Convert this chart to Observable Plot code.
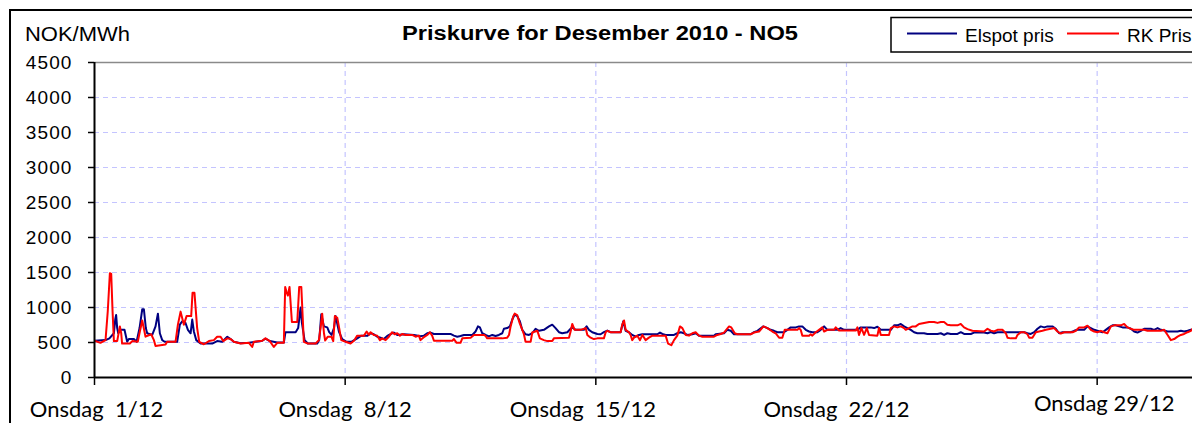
<!DOCTYPE html>
<html><head><meta charset="utf-8">
<script src="https://cdn.jsdelivr.net/npm/d3@7"></script>
<script src="https://cdn.jsdelivr.net/npm/@observablehq/plot@0.6"></script>
<style>
html,body{margin:0;padding:0;background:#fff;overflow:hidden;width:1192px;height:423px;}
#chart svg{display:block}
</style></head><body><div id="chart"></div>
<script>
// ---- data: [hours since 1 Dec 2010 00:00, NOK/MWh] ----
const elspot = [
[0,525],[7.4,534],[10,560],[13,632],[13.9,828],[14.5,892],[15.2,706],[15.9,632],[17.4,681],[20.1,681],[21.9,510],[23,549],[26.4,549],[28.2,510],[30.2,706],[32,975],[33.1,975],[34.4,706],[35.3,632],[38.7,608],[40.9,730],[42.5,912],[43.8,632],[45.4,534],[47,510],[55.4,510],[57.2,755],[58.8,804],[61,779],[62.6,681],[64.4,632],[65.5,828],[66.6,657],[68.2,534],[71.1,485],[78.9,485],[82.2,520],[85.6,510],[89,583],
[91.2,549],[93.4,510],[97.9,490],[103.5,495],[112.4,525],[114.6,555],[117.5,520],[122.5,500],[126.9,500],[128,647],[134.8,647],[136.5,706],[138.1,1000],[139,779],[140.8,534],[143,485],[149.3,485],[150.6,534],[152,902],[153.8,730],[156,716],[157.3,647],[158.9,608],[160.5,706],[161.6,877],[163.8,657],[166,549],[169,510],[172.1,510],[176.1,559],[178.8,598],[183,598],
[185,632],[187.2,618],[189.5,583],[191.7,569],[193.9,549],[196.2,593],[198.4,618],[200.6,642],[202.9,608],[207.4,618],[214.1,608],[218.5,588],[220.8,598],[223,632],[225.2,642],[227.5,622],[238.6,622],[240.9,598],[243.1,583],[245.3,593],[247.6,608],[253.2,608],[255.4,657],[257,730],[258.3,716],[259.9,632],[262.1,608],[264.3,588],[266.6,608],[268.8,593],[271,608],[273.3,632],[274.4,696],[276.6,706],[278.4,730],[280,828],[281.6,900],[283.3,877],[285.1,804],[286.7,680],[288.9,618],[291.2,608],[293.4,632],[295.6,696],[297.9,667],[301.2,681],[304.6,730],[306.8,755],[309,706],[311.3,647],[313.5,632],[316.9,647],[319.1,696],[320.2,716],[322.5,681],
[325.8,681],[328,681],[329.8,730],[331.4,681],[333.6,647],[337,622],[339.2,618],[341.4,647],[343.7,671],[345.9,647],[352.6,647],[354.4,804],[356,667],[358.2,647],[360.4,608],[362.7,583],[364.9,608],[367.1,618],[377.2,618],[379,642],[380.6,622],[382.8,608],[388.4,608],[390.6,632],[392.9,647],[395.1,632],[397.3,608],[400.7,618],[402.9,632],[405.1,598],[415.2,598],[416.3,618],[421.9,632],[424.1,681],[426.4,667],[428.6,618],[439.8,618],[442,647],[444.3,667],[448.3,730],[451,706],[453.2,681],[455.4,667],[457.7,647],[462.1,647],[464.4,681],
[466.6,716],[470,716],[472.2,730],[474.4,730],[476.7,681],[478.9,657],[481.1,647],[484.5,647],[486.7,681],[489,730],[491.2,681],[497.9,681],[500.1,706],[502.4,681],[511.3,681],[513.5,716],[520.2,716],[522.5,706],[524.7,725],[527,681],[533.7,681],[535.9,745],[538.1,745],[540.4,765],[542.6,730],[544.8,706],[547.1,681],[549.3,647],[551.5,632],[556,632],[558.2,622],[565,622],[567.2,632],[569.4,608],[571.6,632],[573.9,622],[578.4,622],[580.6,647],[582.8,622],[587.3,622],[589.5,642],[596.2,642],[598.5,632],
[600.7,650],[602.9,632],[605.2,647],[623.1,647],[625.3,632],[627.5,622],[629.8,647],[632,696],[634.2,730],[636.5,716],[638.7,730],[642,730],[644.3,696],[646.5,632],[648.8,647],[654.3,647],[656.6,667],[658.8,681],[663.3,681],[665.5,730],[667.8,706],[670,681],[672.2,667],[675.6,647],[677.8,681],[680,716],[682.3,745],[684.5,745],[686.7,730],[689,716],[692.3,716],[694.6,696],[696.8,657],[699,642],[701.3,667],[703.5,696],[708,696],[710.2,681],[712.5,706],[714.7,681],[716.9,671],[719.2,657],[725.9,657],[728.1,667],[730.3,657],[732.6,667],[734.8,681],[736,685]
];
const rk = [
[0,525],[4,495],[7.4,534],[8.9,950],[10.3,1490],[11.2,1480],[12.1,950],[13,520],[15.2,520],[17,730],[17.9,632],[18.5,485],[23.7,485],[25.3,520],[29,510],[30.4,657],[32,814],[34.2,583],[38,618],[39.8,534],[40.9,451],[47.6,470],[48.7,510],[54.3,510],[55.9,755],[57.7,941],[59.9,755],[61.7,877],[64.8,877],[65.7,1210],[67,1210],[68.8,706],[70.2,510],[73.3,475],[76.7,520],[80,534],[82.2,583],[84.5,583],[86.3,520],[89,559],
[91.2,549],[93.4,510],[97.9,485],[103.5,495],[105.7,436],[106.8,510],[112.4,525],[114.6,559],[117.5,520],[120.2,436],[122.5,495],[126.9,495],[127.8,1294],[128.7,1220],[129.6,1171],[130.7,1294],[132.3,794],[135.9,794],[137.2,1294],[138.6,1294],[140.3,510],[143,485],[148.2,485],[150.4,534],[151.5,706],[152.6,912],[153.8,632],[154.6,529],[156.4,583],[158.7,583],[160,520],[161.1,877],[162.7,853],[164,706],[165.4,534],[168.3,510],[171.6,485],[173.9,525],[176.1,598],[180.6,598],[182.4,657],[184,610],
[185,647],[187.2,608],[189.5,598],[191.3,534],[192.8,559],[195.1,534],[197.3,583],[199.5,647],[201.1,618],[202.9,632],[204.7,598],[206.2,622],[208.5,608],[212.9,608],[215.2,583],[217.4,598],[218.5,534],[220.3,569],[223,608],[224.8,647],[226.3,598],[227.5,525],[239.8,525],[240.9,549],[242.7,495],[245.3,495],[246.5,559],[252.1,569],[254.3,608],[261,608],[262.1,593],[263.2,559],[273.3,559],[276.6,569],[277.8,608],[278.9,730],[280.7,877],[281.6,912],[283.3,892],[284.9,780],[286.7,681],[287.8,618],[288.9,510],[292.3,510],[293.4,642],[296.8,667],[298.5,559],[301.2,534],[303.5,520],[306.8,520],[307.9,559],[318,569],[319.1,657],[320.2,765],[321.8,681],
[325.8,681],[329.2,706],[330.3,608],[332.5,569],[334.7,549],[337,559],[341.4,559],[342.6,647],[343.7,667],[345.9,647],[352.6,647],[353.7,755],[354.9,814],[356,681],[358.2,647],[359.3,608],[360.4,534],[361.6,569],[363.8,598],[365.6,534],[367.2,608],[369.4,534],[371.6,569],[373.9,598],[382.8,598],[384.4,485],[386.6,461],[388.4,534],[390.6,598],[392.4,730],[394,706],[396.2,608],[398.4,598],[400.7,632],[402.9,647],[405.1,598],[407.4,583],[415.2,583],[417.4,608],[419.7,622],[421.9,642],[425.3,730],[426.8,716],[429.1,632],[430.8,618],[439.8,618],[442,642],[445.4,657],[448.3,730],[451,706],[454.3,657],[456.5,632],[458.8,569],[461,569],[462.6,681],
[466.6,681],[471.1,681],[472.2,706],[473.3,681],[474.4,598],[478.9,598],[480,618],[481.1,598],[483.4,647],[485.6,681],[487.8,716],[489,657],[491.2,681],[495.7,681],[496.8,716],[499,671],[510.2,671],[511.3,716],[512.4,608],[514,706],[515.8,608],[517.6,706],[519.1,608],[524.7,598],[525.8,706],[527,608],[532.5,608],[533.7,706],[535.9,730],[538.1,716],[540.4,730],[542.6,706],[543.7,681],[545.9,706],[548.2,730],[550.4,730],[552.6,765],[556,780],[559.4,794],[562.7,794],[565,780],[567.2,794],[569.4,794],[571.6,755],[573.9,745],[578.4,745],[580.6,765],[582.8,716],[585.1,691],[588.4,667],[596.2,657],[598.5,696],
[600.7,670],[602.9,657],[605.2,681],[608.5,681],[610.8,632],[611.9,569],[614.1,559],[617.5,559],[618.6,608],[620.8,647],[623.1,647],[625.3,618],[626.4,569],[628.6,569],[630.9,647],[633.1,657],[635.3,667],[637.6,681],[640.9,696],[643.2,706],[645.4,657],[647.6,627],[649.9,647],[655.5,647],[657.7,667],[659.9,716],[663.3,716],[665.5,740],[667.8,681],[670,657],[672.2,647],[674.5,667],[676.7,647],[678.9,632],[681.2,730],[683.4,745],[687.9,745],[690.1,765],[692.3,716],[694.6,696],[696.8,681],[703.5,681],[705.7,667],[714.7,667],[716.9,681],[719.2,608],[721.4,534],[723.6,549],[725.9,583],[728.1,608],[730.3,622],[732.6,647],[734.8,667],[736,700]
];
const yTicks = [0,500,1000,1500,2000,2500,3000,3500,4000,4500];
const weekDays = [1,8,15,22,29];
const weekLabels = ["Onsdag\u00a0\u00a01/12","Onsdag\u00a0\u00a08/12","Onsdag\u00a0\u00a015/12","Onsdag\u00a0\u00a022/12","Onsdag\u00a029/12"];
const seriesNames = ["Elspot pris","RK Pris"];
const seriesColors = ["#000080","#ff0000"];
const titleText = "Priskurve for Desember 2010 - NO5";
const unitText = "NOK/MWh";

// ---- build ----
const t0 = Date.UTC(2010,11,1);
const hourToDate = h => new Date(t0 + h*3600000);
const toRows = arr => arr.map(([h,v]) => ({date: hourToDate(h), value: v}));
const weekDates = weekDays.map(d => new Date(Date.UTC(2010,11,d)));
const labelByDay = new Map(weekDays.map((d,i)=>[d, weekLabels[i]]));
const xEnd = hourToDate(735.9);
const grid = {stroke:"#c4c4ff", strokeOpacity:1, strokeWidth:1.2, strokeDasharray:"5,4"};

const chart = Plot.plot({
  width: 1192, height: 423,
  marginLeft: 94, marginRight: 0, marginTop: 62, marginBottom: 46,
  style: {background:"white", fontFamily:"'Liberation Sans', Arial, sans-serif", overflow:"hidden", color:"black"},
  x: {type:"utc", domain:[weekDates[0], xEnd]},
  y: {domain:[0,4500]},
  marks: [
    Plot.gridY(yTicks.slice(1,-1), grid),
    Plot.gridX(weekDates.slice(1), grid),
    Plot.ruleY([4500], {stroke:"#8a8a8a", strokeWidth:1.6}),
    Plot.line(toRows(elspot), {x:"date", y:"value", stroke:seriesColors[0], strokeWidth:2, clip:true}),
    Plot.line(toRows(rk), {x:"date", y:"value", stroke:seriesColors[1], strokeWidth:2, clip:true}),
    Plot.axisY(yTicks, {tickSize:6, tickPadding:16, fontSize:19, label:null, strokeWidth:1.5, tickFormat: d => String(d)}),
    Plot.axisX(weekDates, {tickSize:8, tickPadding:16, tickFormat: d => labelByDay.get(d.getUTCDate()), label:null, fontSize:22, strokeWidth:1.5}),
    Plot.ruleX([weekDates[0]], {stroke:"black", strokeWidth:2}),
    Plot.ruleY([0], {stroke:"black", strokeWidth:2})
  ]
});
document.getElementById("chart").appendChild(chart);

const svg = d3.select(chart);
svg.selectAll('g[aria-label="y-axis tick label"] text').style("letter-spacing","1.1px");
const xl = svg.selectAll('g[aria-label="x-axis tick label"] text').style("font-family","Lato, sans-serif");
const labelShift = [[2,0],[0,0],[-13,0],[-10,0],[7,-6]];
xl.each(function(d,i){
  const s = labelShift[i] || [0,0];
  const tr = this.getAttribute("transform") || "";
  this.setAttribute("transform", tr + ` translate(${s[0]},${s[1]})`);
});

const deco = svg.append("g").attr("text-anchor","start").attr("fill","black");
// outer frame
deco.append("path").attr("d","M10,440V10H1210").attr("fill","none").attr("stroke","black").attr("stroke-width",2);
// unit label
deco.append("text").attr("x",25).attr("y",41).attr("font-size",20).attr("textLength",105).attr("lengthAdjust","spacingAndGlyphs").text(unitText);
// title
deco.append("text").attr("x",402).attr("y",40).attr("font-size",20).attr("font-weight","bold").attr("textLength",396).attr("lengthAdjust","spacingAndGlyphs").text(titleText);
// legend
deco.append("rect").attr("x",891).attr("y",17.5).attr("width",330).attr("height",34.5).attr("fill","white").attr("stroke","black").attr("stroke-width",1.5);
const legendX = [[907,957,965],[1067,1119,1127]];
seriesNames.forEach((n,i)=>{
  const [a,b,tx] = legendX[i];
  deco.append("line").attr("x1",a).attr("x2",b).attr("y1",33.5).attr("y2",33.5).attr("stroke",seriesColors[i]).attr("stroke-width",2);
  deco.append("text").attr("x",tx).attr("y",41.5).attr("font-size",19).text(n);
});
</script></body></html>
